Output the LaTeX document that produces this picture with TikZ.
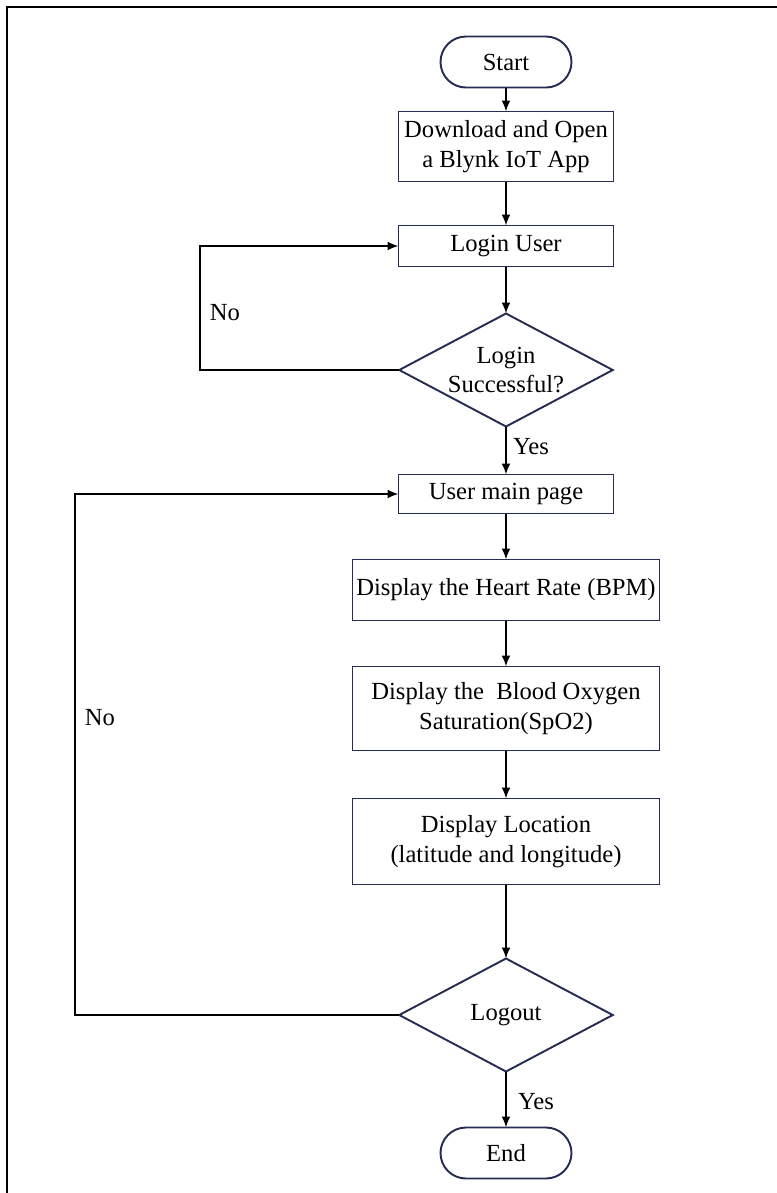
\documentclass[tikz,border=0pt]{standalone}
\usepackage{fontspec}
\setmainfont{Liberation Serif}
\usetikzlibrary{positioning}
\usetikzlibrary{shapes.geometric}
\usetikzlibrary{arrows.meta}

\definecolor{boxline}{RGB}{38,44,82}

\tikzset{
    terminal/.style={draw=boxline, line width=1.1pt, rectangle, rounded corners=0.51cm, minimum width=2.62cm, minimum height=1.02cm},
    process/.style={draw=boxline, line width=1.1pt, rectangle, align=center, minimum width=4.3cm},
    widebox/.style={process, minimum width=6.14cm},
    decision/.style={draw=boxline, line width=1.1pt, diamond, aspect=1.87, align=center, minimum width=4.27cm, minimum height=2.26cm},
    flow/.style={-{Latex[length=2.2mm,width=1.8mm]}, line width=1.1pt}
}

\begin{document}
\begin{tikzpicture}[font=\fontsize{14}{17}\selectfont, every node/.append style={inner sep=0pt, outer sep=0pt}]
    \useasboundingbox (0,0) rectangle (15.54,-23.86);

    % frame
    \draw[line width=1.3pt] (0.14,-23.86) -- (0.14,-0.14) -- (15.54,-0.14);

    \node[terminal] (start) at (10.12,-1.24) {Start};
    \node[process, minimum height=1.4cm, below=0.48cm of start] (download) {Download and Open\\a Blynk IoT App};
    \node[process, minimum height=0.82cm, below=0.88cm of download] (login) {Login User};
    \node[decision, below=0.94cm of login] (check) {Login\\Successful?};
    \node[process, minimum height=0.78cm, below=0.96cm of check] (mainpage) {User main page};
    \node[widebox, minimum height=1.22cm, below=0.92cm of mainpage] (heart) {Display the Heart Rate (BPM)};
    \node[widebox, minimum height=1.68cm, below=0.92cm of heart] (oxygen) {Display the \ Blood Oxygen\\Saturation(SpO2)};
    \node[widebox, minimum height=1.72cm, below=0.96cm of oxygen] (location) {Display Location\\(latitude and longitude)};
    \node[decision, below=1.48cm of location] (logout) {Logout};
    \node[terminal, below=1.12cm of logout] (finish) {End};

    \coordinate (lefta) at (4.0,0);
    \coordinate (leftb) at (1.5,0);

    \node (noa) at (4.5,-6.26) {No};
    \node (nob) at (2.0,-14.36) {No};
    \node (yesa) at (10.62,-8.94) {Yes};
    \node (yesb) at (10.72,-22.04) {Yes};

    \draw[flow] (start) -- (download);
    \draw[flow] (download) -- (login);
    \draw[flow] (login) -- (check);
    \draw[flow] (check) -- (mainpage);
    \draw[flow] (mainpage) -- (heart);
    \draw[flow] (heart) -- (oxygen);
    \draw[flow] (oxygen) -- (location);
    \draw[flow] (location) -- (logout);
    \draw[flow] (logout) -- (finish);

    % loops back
    \draw[flow] (check.west) -- (check.west -| lefta) |- (login.west);
    \draw[flow] (logout.west) -- (logout.west -| leftb) |- (mainpage.west);
\end{tikzpicture}
\end{document}
